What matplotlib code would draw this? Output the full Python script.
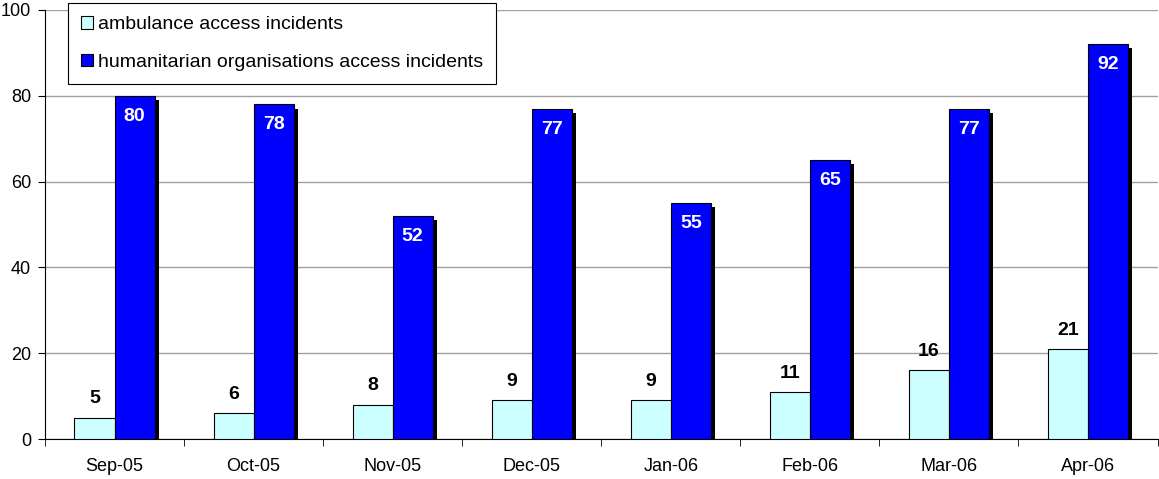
import numpy as np
import matplotlib.pyplot as plt
import matplotlib.patheffects as pe

plt.rcParams['font.family'] = ['Liberation Sans', 'DejaVu Sans']

months = ["Sep-05", "Oct-05", "Nov-05", "Dec-05", "Jan-06", "Feb-06", "Mar-06", "Apr-06"]
ambulance = [5, 6, 8, 9, 9, 11, 16, 21]
humanitarian = [80, 78, 52, 77, 55, 65, 77, 92]

fig = plt.figure(figsize=(11.59, 4.79), dpi=100)
ax = fig.add_axes([45 / 1159, 1 - 439 / 479, 1112.5 / 1159, 429 / 479])

x = np.arange(len(months))
w = 0.288

ax.bar(x - w / 2, ambulance, w, color="#ccffff", edgecolor="black", linewidth=0.8,
       label="ambulance access incidents", zorder=3)
b2 = ax.bar(x + w / 2, humanitarian, w, color="#0000ff", edgecolor="black", linewidth=0.8,
            label="humanitarian organisations access incidents", zorder=3)
for p in b2:
    p.set_path_effects([pe.SimplePatchShadow(offset=(3, -3), shadow_rgbFace="black", alpha=1),
                        pe.Normal()])

for xi, v in zip(x, ambulance):
    ax.text(xi - w / 2, v + 2.4, str(v), ha="center", va="bottom", fontsize=14,
            fontweight="bold", zorder=4)
for xi, v in zip(x, humanitarian):
    ax.text(xi + w / 2, v - 2.8, str(v), ha="center", va="top", fontsize=14,
            fontweight="bold", color="white", zorder=4)

ax.set_xlim(-0.5, len(months) - 0.5)
ax.set_ylim(0, 100)
ax.set_yticks(range(0, 101, 20))
ax.set_xticks(x)
ax.set_xticklabels(months)
ax.set_xticks(np.arange(-0.5, len(months), 1), minor=True)
ax.tick_params(axis="x", which="major", length=0, pad=14, labelsize=13)
ax.tick_params(axis="x", which="minor", length=5, direction="out")
ax.tick_params(axis="y", length=5, direction="out", labelsize=13, pad=5)
ax.yaxis.grid(True, color="#a0a0a0", linewidth=1, zorder=0)
ax.set_axisbelow(True)
for s in ["top", "right"]:
    ax.spines[s].set_visible(False)

leg = ax.legend(loc="upper left", bbox_to_anchor=(68 / 1159, 1 - 3 / 479),
                bbox_transform=fig.transFigure, borderaxespad=0, fontsize=14,
                frameon=True, fancybox=False, edgecolor="black", framealpha=1,
                handlelength=0.6, handleheight=0.6, handletextpad=0.25,
                labelspacing=1.05, borderpad=0.68)
leg.get_frame().set_linewidth(0.8)
for h in leg.legend_handles:
    h.set_path_effects([])

fig.savefig("out.png", dpi=100)
